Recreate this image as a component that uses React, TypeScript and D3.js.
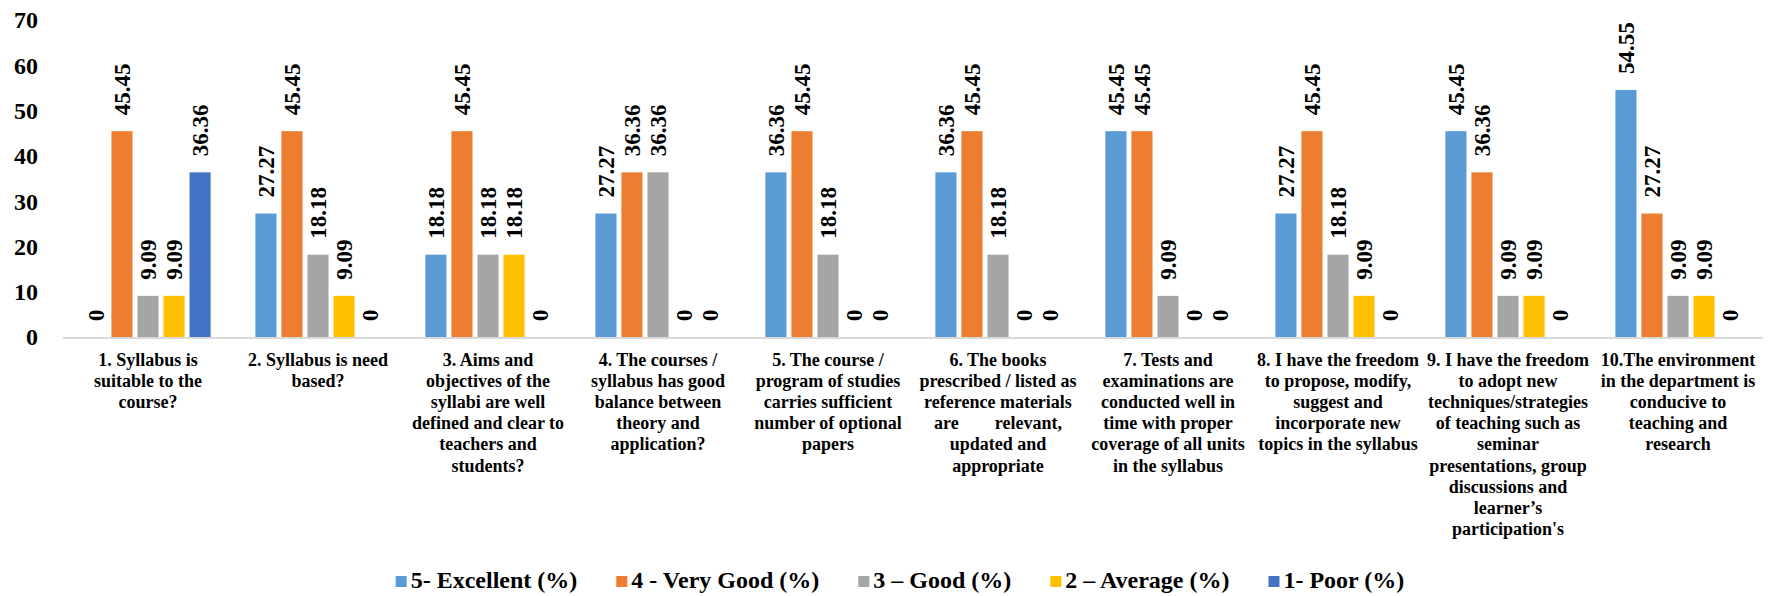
import React, { useEffect, useRef } from "react";
import * as d3 from "d3";

// question labels, already broken into lines as in the source chart
const categories: string[][] = [
  ["1. Syllabus is", "suitable to the", "course?"],
  ["2. Syllabus is need", "based?"],
  ["3. Aims and", "objectives of the", "syllabi are well", "defined and clear to", "teachers and", "students?"],
  ["4. The courses /", "syllabus has good", "balance between", "theory and", "application?"],
  ["5. The course /", "program of studies", "carries sufficient", "number of optional", "papers"],
  ["6. The books", "prescribed / listed as", "reference materials", "are        relevant,", "updated and", "appropriate"],
  ["7. Tests and", "examinations are", "conducted well in", "time with proper", "coverage of all units", "in the syllabus"],
  ["8. I have the freedom", "to propose, modify,", "suggest and", "incorporate new", "topics in the syllabus"],
  ["9. I have the freedom", "to adopt new", "techniques/strategies", "of teaching such as", "seminar", "presentations, group", "discussions and", "learner\u2019s", "participation's"],
  ["10.The environment", "in the department is", "conducive to", "teaching and", "research"],
];

const seriesNames = ["5- Excellent (%)", "4 - Very Good (%)", "3 \u2013 Good (%)", "2 \u2013 Average (%)", "1- Poor (%)"];
const seriesColors = ["#5B9BD5", "#ED7D31", "#A5A5A5", "#FFC000", "#4472C4"];

const excellent = [0, 27.27, 18.18, 27.27, 36.36, 36.36, 45.45, 27.27, 45.45, 54.55];
const veryGood = [45.45, 45.45, 45.45, 36.36, 45.45, 45.45, 45.45, 45.45, 36.36, 27.27];
const good = [9.09, 18.18, 18.18, 36.36, 18.18, 18.18, 9.09, 18.18, 9.09, 9.09];
const average = [9.09, 9.09, 18.18, 0, 0, 0, 0, 9.09, 9.09, 9.09];
const poor = [36.36, 0, 0, 0, 0, 0, 0, 0, 0, 0];

const yTicks = [0, 10, 20, 30, 40, 50, 60, 70];

const WIDTH = 1775;
const HEIGHT = 596;
const FONT = "Liberation Serif";

export default function App() {
  const ref = useRef<SVGSVGElement>(null);

  useEffect(() => {
    const svg = d3.select(ref.current);
    svg.selectAll("*").remove();

    const margin = { top: 20, right: 12, bottom: 259, left: 63 };
    const allSeries = [excellent, veryGood, good, average, poor];
    const idx = d3.range(categories.length);

    const x0 = d3.scaleBand<number>().domain(idx).range([margin.left, WIDTH - margin.right]);
    const x1 = d3
      .scaleBand<number>()
      .domain(d3.range(seriesNames.length))
      .range([0, x0.bandwidth()])
      .paddingInner(0.19)
      .paddingOuter(0.86);
    const y = d3.scaleLinear().domain([0, 70]).range([HEIGHT - margin.bottom, margin.top]);

    // y axis (labels only)
    const yAxis = svg
      .append("g")
      .attr("transform", `translate(${margin.left - 25},0)`)
      .call(d3.axisLeft(y).tickValues(yTicks).tickSize(0).tickPadding(0));
    yAxis.select(".domain").remove();
    yAxis.attr("font-family", null).attr("font-size", null);
    yAxis
      .selectAll("text")
      .attr("dy", "0.33em")
      .style("font-family", FONT)
      .style("font-weight", "bold")
      .style("font-size", "24px")
      .attr("fill", "#000");

    // bars
    const groups = svg
      .append("g")
      .selectAll("g")
      .data(idx)
      .join("g")
      .attr("transform", (i) => `translate(${x0(i)},0)`);

    groups
      .selectAll("rect")
      .data((i) => allSeries.map((s, k) => ({ k, v: s[i] })))
      .join("rect")
      .attr("x", (d) => x1(d.k)!)
      .attr("width", x1.bandwidth())
      .attr("y", (d) => y(d.v))
      .attr("height", (d) => y(0) - y(d.v))
      .attr("fill", (d) => seriesColors[d.k]);

    groups
      .selectAll("text")
      .data((i) => allSeries.map((s, k) => ({ k, v: s[i] })))
      .join("text")
      .attr("transform", (d) => `translate(${x1(d.k)! + x1.bandwidth() / 2},${y(d.v) - 16}) rotate(-90)`)
      .attr("dy", "0.35em")
      .style("font-family", FONT)
      .style("font-weight", "bold")
      .style("font-size", "23px")
      .attr("fill", "#000")
      .text((d) => (d.v === 0 ? "0" : d.v.toFixed(2)));

    // x axis line
    svg
      .append("line")
      .attr("x1", margin.left)
      .attr("x2", WIDTH - margin.right)
      .attr("y1", y(0) + 1)
      .attr("y2", y(0) + 1)
      .attr("stroke", "#D9D9D9")
      .attr("stroke-width", 2);

    // category labels
    const cat = svg
      .append("g")
      .selectAll("text")
      .data(idx)
      .join("text")
      .style("font-family", FONT)
      .style("font-weight", "bold")
      .style("font-size", "18px")
      .attr("fill", "#000")
      .attr("text-anchor", "middle")
      .style("white-space", "pre");
    cat
      .selectAll("tspan")
      .data((i) => categories[i].map((line, n) => ({ i, line, n })))
      .join("tspan")
      .attr("x", (d) => x0(d.i)! + x0.bandwidth() / 2)
      .attr("y", (d) => 366 + d.n * 21.1)
      .text((d) => d.line);

    // legend
    const legend = svg.append("g");
    const items = legend
      .selectAll("g")
      .data(seriesNames)
      .join("g");
    items
      .append("rect")
      .attr("width", 11)
      .attr("height", 11)
      .attr("y", 576)
      .attr("fill", (_, k) => seriesColors[k]);
    items
      .append("text")
      .attr("x", 15)
      .attr("y", 588)
      .style("font-family", FONT)
      .style("font-weight", "bold")
      .style("font-size", "24px")
      .attr("fill", "#000")
      .text((d) => d);
    let offset = 0;
    const positions: number[] = [];
    items.each(function () {
      const w = (d3.select(this).select("text").node() as SVGTextElement).getComputedTextLength();
      positions.push(offset);
      offset += 15 + w + 39;
    });
    const total = offset - 39;
    const start = 900 - total / 2;
    items.attr("transform", (_, k) => `translate(${start + positions[k]},0)`);
  }, []);

  return (
    <svg
      ref={ref}
      width={WIDTH}
      height={HEIGHT}
      style={{ position: "absolute", left: 0, top: 0, background: "#fff" }}
    />
  );
}
